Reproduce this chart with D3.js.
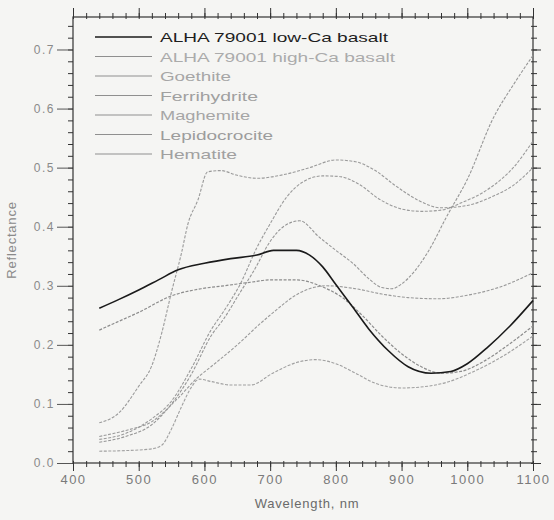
<!DOCTYPE html>
<html>
<head>
<meta charset="utf-8">
<script src="https://cdn.jsdelivr.net/npm/d3@7"></script>
<style>
  html, body { margin: 0; padding: 0; background: #f5f5f3; }
  svg { display: block; }
  text { font-family: "Liberation Sans", Arial, sans-serif; }
</style>
</head>
<body>
<svg id="chart" width="554" height="520"></svg>
<script>
// Axis ticks
const xMajorTicks = [400, 500, 600, 700, 800, 900, 1000, 1100];
const yMajorTicks = [0.0, 0.1, 0.2, 0.3, 0.4, 0.5, 0.6, 0.7];

// Legend labels, in drawing order
const seriesNames = [
  "ALHA 79001 low-Ca basalt",
  "ALHA 79001 high-Ca basalt",
  "Goethite",
  "Ferrihydrite",
  "Maghemite",
  "Lepidocrocite",
  "Hematite"
];

// Reflectance spectra: wavelength (nm) and reflectance
const lowCaWl = [440, 470, 500, 530, 560, 600, 640, 680, 705, 740, 760, 780, 800, 825, 850, 880, 910, 945, 975, 1000, 1030, 1065, 1100];
const lowCaR  = [0.262, 0.277, 0.293, 0.310, 0.327, 0.338, 0.346, 0.352, 0.360, 0.360, 0.352, 0.332, 0.302, 0.265, 0.227, 0.190, 0.163, 0.152, 0.155, 0.168, 0.195, 0.232, 0.275];

const highCaWl = [440, 470, 500, 550, 595, 630, 670, 700, 740, 780, 810, 840, 870, 900, 930, 960, 990, 1025, 1060, 1100];
const highCaR  = [0.225, 0.240, 0.255, 0.283, 0.295, 0.300, 0.306, 0.310, 0.310, 0.298, 0.280, 0.250, 0.215, 0.185, 0.163, 0.152, 0.155, 0.172, 0.198, 0.232];

const goethiteWl = [440, 480, 520, 550, 580, 610, 630, 655, 680, 700, 725, 750, 780, 805, 835, 867, 900, 930, 960, 990, 1035, 1070, 1100];
const goethiteR  = [0.040, 0.050, 0.075, 0.105, 0.160, 0.225, 0.258, 0.304, 0.365, 0.405, 0.450, 0.476, 0.486, 0.485, 0.472, 0.446, 0.430, 0.426, 0.428, 0.440, 0.466, 0.500, 0.545];

const ferrihydriteWl = [440, 480, 520, 560, 590, 610, 650, 685, 705, 745, 785, 830, 870, 910, 955, 1000, 1050, 1100];
const ferrihydriteR  = [0.045, 0.055, 0.070, 0.110, 0.145, 0.163, 0.200, 0.236, 0.255, 0.288, 0.300, 0.295, 0.286, 0.280, 0.278, 0.284, 0.298, 0.322];

const maghemiteWl = [440, 480, 520, 535, 550, 565, 580, 592, 610, 640, 670, 704, 740, 770, 800, 830, 860, 900, 940, 970, 1010, 1050, 1100];
const maghemiteR  = [0.020, 0.021, 0.024, 0.030, 0.058, 0.095, 0.128, 0.142, 0.138, 0.132, 0.132, 0.152, 0.170, 0.175, 0.168, 0.152, 0.135, 0.127, 0.130, 0.137, 0.155, 0.178, 0.215];

const lepidocrociteWl = [440, 470, 500, 520, 535, 550, 565, 575, 590, 605, 625, 650, 680, 720, 760, 800, 830, 860, 890, 925, 960, 1000, 1040, 1070, 1100];
const lepidocrociteR  = [0.068, 0.085, 0.130, 0.165, 0.220, 0.290, 0.355, 0.405, 0.445, 0.493, 0.495, 0.487, 0.482, 0.488, 0.500, 0.513, 0.510, 0.495, 0.470, 0.445, 0.432, 0.436, 0.452, 0.470, 0.500];

const hematiteWl = [440, 480, 520, 550, 580, 610, 630, 655, 675, 700, 720, 745, 775, 800, 826, 850, 870, 885, 900, 920, 940, 970, 1000, 1040, 1070, 1100];
const hematiteR  = [0.035, 0.045, 0.065, 0.100, 0.150, 0.215, 0.245, 0.290, 0.325, 0.375, 0.400, 0.410, 0.382, 0.360, 0.338, 0.312, 0.297, 0.295, 0.303, 0.325, 0.357, 0.420, 0.480, 0.585, 0.640, 0.690];

const seriesWl = [lowCaWl, highCaWl, goethiteWl, ferrihydriteWl, maghemiteWl, lepidocrociteWl, hematiteWl];
const seriesR  = [lowCaR, highCaR, goethiteR, ferrihydriteR, maghemiteR, lepidocrociteR, hematiteR];

// Styles per series
const lineColors  = ["#1a1a1a", "#8c8c8c", "#9a9a9a", "#9a9a9a", "#a0a0a0", "#9a9a9a", "#969696"];
const lineWidths  = [1.6, 1.2, 1.1, 1.1, 1.1, 1.1, 1.1];
const lineDashes  = [null, "3 1.5", "3 1.5", "3 1.5", "3 1.5", "3 1.5", "3 1.5"];
const labelColors = ["#1e1e1e", "#ababab", "#a6a6a6", "#a0a0a0", "#a6a6a6", "#9c9c9c", "#a0a0a0"];
const labelWidths = [228, 235, 71, 98, 90, 113, 77];

const svg = d3.select("#chart");
const plotLeft = 73, plotRight = 533, plotTop = 17, plotBottom = 463;

const x = d3.scaleLinear().domain([400, 1100]).range([plotLeft, plotRight]);
const y = d3.scaleLinear().domain([0, 0.755]).range([plotBottom, plotTop]);

const xMinor = d3.range(400, 1101, 20);
const yMinor = d3.range(0, 0.7551, 0.02);

const axisColor = "#333";
function styleAxis(g) {
  g.select(".domain").remove();
  g.selectAll("line").attr("stroke", axisColor).attr("stroke-width", 1);
}

// Minor ticks
svg.append("g").attr("transform", `translate(0,${plotBottom})`)
  .call(d3.axisBottom(x).tickValues(xMinor).tickSize(4).tickFormat(""))
  .call(styleAxis);
svg.append("g").attr("transform", `translate(0,${plotBottom})`)
  .call(d3.axisTop(x).tickValues(xMinor).tickSize(2).tickFormat(""))
  .call(styleAxis);
svg.append("g").attr("transform", `translate(0,${plotTop})`)
  .call(d3.axisTop(x).tickValues(xMinor).tickSize(4).tickFormat(""))
  .call(styleAxis);
svg.append("g").attr("transform", `translate(0,${plotTop})`)
  .call(d3.axisBottom(x).tickValues(xMinor).tickSize(2).tickFormat(""))
  .call(styleAxis);
svg.append("g").attr("transform", `translate(${plotLeft},0)`)
  .call(d3.axisLeft(y).tickValues(yMinor).tickSize(5).tickFormat(""))
  .call(styleAxis);
svg.append("g").attr("transform", `translate(${plotRight},0)`)
  .call(d3.axisRight(y).tickValues(yMinor).tickSize(4).tickFormat(""))
  .call(styleAxis);
svg.append("g").attr("transform", `translate(${plotRight},0)`)
  .call(d3.axisLeft(y).tickValues(yMinor).tickSize(2).tickFormat(""))
  .call(styleAxis);

// Major ticks with labels
const xAxis = svg.append("g").attr("transform", `translate(0,${plotBottom})`)
  .call(d3.axisBottom(x).tickValues(xMajorTicks).tickSize(8).tickPadding(4).tickFormat(d3.format("d")))
  .call(styleAxis);
xAxis.selectAll("text")
  .attr("fill", "#7a7a7a").style("font-size", "13px").style("letter-spacing", "1.5px");

svg.append("g").attr("transform", `translate(0,${plotTop})`)
  .call(d3.axisTop(x).tickValues(xMajorTicks).tickSize(9).tickFormat(""))
  .call(styleAxis);

const yAxis = svg.append("g").attr("transform", `translate(${plotLeft},0)`)
  .call(d3.axisLeft(y).tickValues(yMajorTicks).tickSize(16).tickPadding(2).tickFormat(d3.format(".1f")))
  .call(styleAxis);
yAxis.selectAll("line").attr("stroke", "#555");
yAxis.selectAll("text")
  .attr("fill", "#8a8a8a").style("font-size", "12px").style("letter-spacing", "1.5px");

svg.append("g").attr("transform", `translate(${plotRight},0)`)
  .call(d3.axisRight(y).tickValues(yMajorTicks).tickSize(8).tickFormat(""))
  .call(styleAxis);

// Frame
svg.append("rect")
  .attr("x", plotLeft).attr("y", plotTop)
  .attr("width", plotRight - plotLeft).attr("height", plotBottom - plotTop)
  .attr("fill", "none").attr("stroke", axisColor).attr("stroke-width", 1.2);

// Axis titles
svg.append("text")
  .attr("x", 307).attr("y", 508)
  .attr("text-anchor", "middle")
  .attr("fill", "#6a6a6a").style("font-size", "13px").style("letter-spacing", "0.8px")
  .text("Wavelength, nm");

svg.append("text")
  .attr("transform", "translate(16,240) rotate(-90)")
  .attr("text-anchor", "middle")
  .attr("fill", "#8a8a8a").style("font-size", "13px").style("letter-spacing", "0.8px")
  .text("Reflectance");

// Spectra
const line = d3.line()
  .x(d => x(d[0]))
  .y(d => y(d[1]))
  .curve(d3.curveMonotoneX);

const plot = svg.append("g");
// draw the gray spectra first, the low-Ca basalt on top
const order = [1, 2, 3, 4, 5, 6, 0];
order.forEach(i => {
  const pts = seriesWl[i].map((w, k) => [w, seriesR[i][k]]);
  plot.append("path")
    .datum(pts)
    .attr("d", line)
    .attr("fill", "none")
    .attr("stroke", lineColors[i])
    .attr("stroke-width", lineWidths[i])
    .attr("stroke-dasharray", lineDashes[i])
    .attr("stroke-linejoin", "round");
});

// Legend
const legend = svg.append("g");
seriesNames.forEach((name, i) => {
  const ly = 37 + i * 19.5;
  legend.append("line")
    .attr("x1", 95).attr("x2", 152)
    .attr("y1", ly).attr("y2", ly)
    .attr("stroke", i === 0 ? "#1a1a1a" : "#8f8f8f")
    .attr("stroke-width", i === 0 ? 1.6 : 1.2);
  legend.append("text")
    .attr("x", 160).attr("y", ly + 5)
    .attr("fill", labelColors[i])
    .attr("textLength", labelWidths[i])
    .attr("lengthAdjust", "spacingAndGlyphs")
    .style("font-size", "13px")
    .text(name);
});
</script>
</body>
</html>
